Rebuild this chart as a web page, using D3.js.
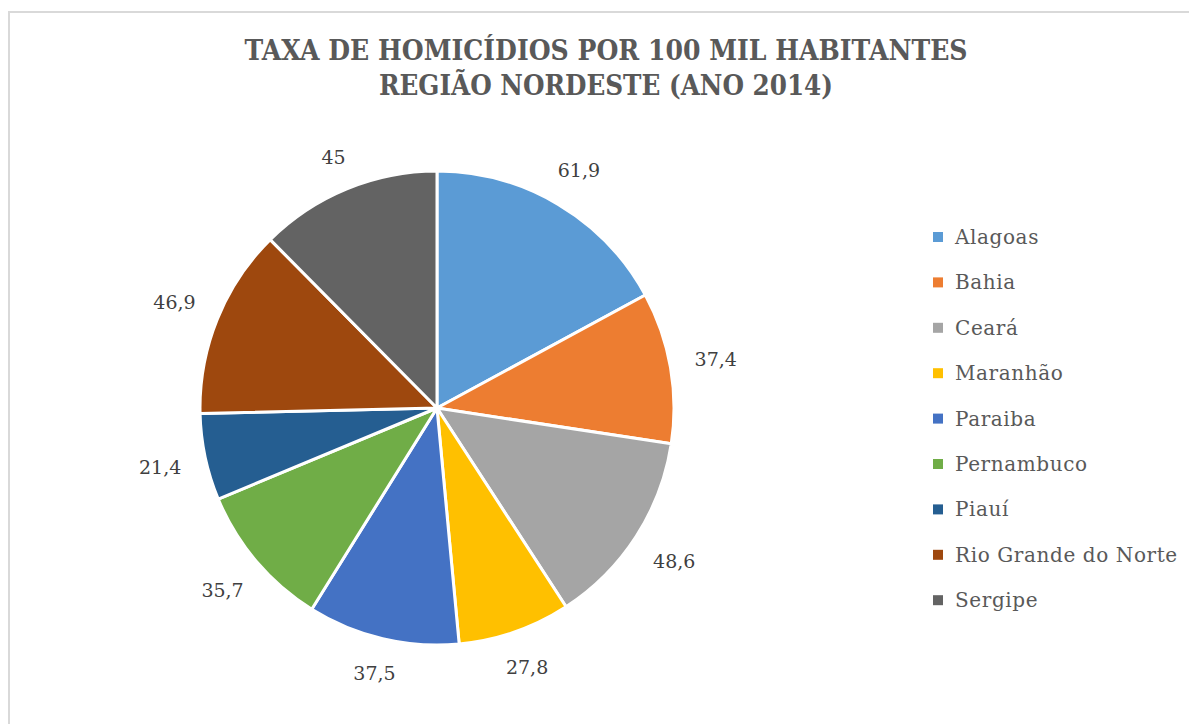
<!DOCTYPE html>
<html>
<head>
<meta charset="utf-8">
<script src="https://cdn.jsdelivr.net/npm/d3@7"></script>
<style>
  body { margin: 0; background: #fff; }
  svg { display: block; }
</style>
</head>
<body>
<div id="chart-container"></div>
<script>
const titleLines = ['TAXA DE HOMICÍDIOS POR 100 MIL HABITANTES', 'REGIÃO NORDESTE (ANO 2014)'];
const states = ['Alagoas', 'Bahia', 'Ceará', 'Maranhão', 'Paraiba', 'Pernambuco', 'Piauí', 'Rio Grande do Norte', 'Sergipe'];
const rates = [61.9, 37.4, 48.6, 27.8, 37.5, 35.7, 21.4, 46.9, 45];
const colors = ['#5b9bd5', '#ed7d31', '#a5a5a5', '#ffc000', '#4472c4', '#70ad47', '#255e91', '#9e480e', '#636363'];

const serif = 'DejaVu Serif';
const width = 1189, height = 724;
const cx = 437, cy = 408, radius = 237;

const svg = d3.select('#chart-container')
  .append('svg')
  .attr('width', width)
  .attr('height', height);

// chart area border (right/bottom edges fall outside the frame)
svg.append('rect')
  .attr('x', 9).attr('y', 12)
  .attr('width', width).attr('height', height)
  .attr('fill', '#fff')
  .attr('stroke', '#d9d9d9')
  .attr('stroke-width', 2);

// title, squeezed like the original
const titleWidths = [723, 454];
svg.append('g')
  .selectAll('text')
  .data(titleLines)
  .join('text')
  .attr('x', 606)
  .attr('y', (d, i) => 60 + i * 35)
  .attr('text-anchor', 'middle')
  .attr('textLength', (d, i) => titleWidths[i])
  .attr('lengthAdjust', 'spacingAndGlyphs')
  .attr('font-family', serif)
  .attr('font-weight', 'bold')
  .attr('font-size', 28)
  .attr('fill', '#595959')
  .text(d => d);

const color = d3.scaleOrdinal().domain(states).range(colors);

const pie = d3.pie().sort(null).value(d => d.value);
const data = states.map((s, i) => ({ name: s, value: rates[i] }));
const arcs = pie(data);

const arc = d3.arc().innerRadius(0).outerRadius(radius);

const g = svg.append('g').attr('transform', `translate(${cx},${cy})`);

g.selectAll('path')
  .data(arcs)
  .join('path')
  .attr('d', arc)
  .attr('fill', d => color(d.data.name))
  .attr('stroke', '#fff')
  .attr('stroke-width', 3)
  .attr('stroke-linejoin', 'round');

// data labels, outside end
const fmt = v => String(v).replace('.', ',');
const labels = g.selectAll('text.label')
  .data(arcs)
  .join('text')
  .attr('class', 'label')
  .attr('text-anchor', 'middle')
  .attr('dominant-baseline', 'central')
  .attr('font-family', serif)
  .attr('font-size', 19)
  .attr('fill', '#404040')
  .text(d => fmt(d.data.value));

labels.each(function(d) {
  const bb = this.getBBox();
  const a = (d.startAngle + d.endAngle) / 2;
  const s = Math.sin(a), c = -Math.cos(a);
  const dist = radius + 24 + Math.abs(s) * bb.width / 2 + Math.abs(c) * bb.height * 0.3;
  d3.select(this).attr('x', s * dist).attr('y', c * dist);
});

// legend
const legend = svg.append('g').attr('transform', 'translate(933,237)');
const row = legend.selectAll('g')
  .data(states)
  .join('g')
  .attr('transform', (d, i) => `translate(0,${i * 45.4})`);

row.append('rect')
  .attr('x', 0).attr('y', -5)
  .attr('width', 10).attr('height', 10)
  .attr('fill', d => color(d));

row.append('text')
  .attr('x', 22)
  .attr('y', 0)
  .attr('dominant-baseline', 'central')
  .attr('font-family', serif)
  .attr('font-size', 20)
  .attr('letter-spacing', 0.6)
  .attr('fill', '#595959')
  .text(d => d);
</script>
</body>
</html>
